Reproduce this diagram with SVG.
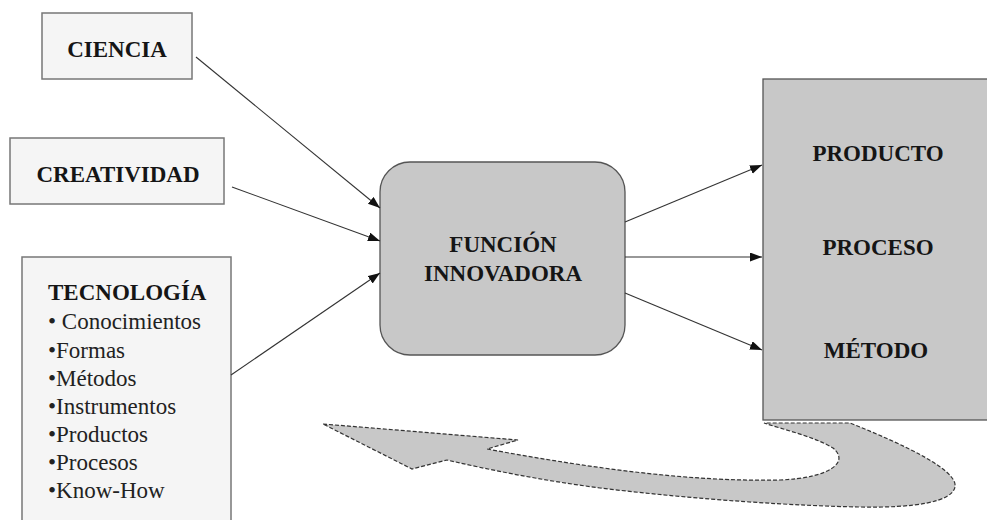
<svg xmlns="http://www.w3.org/2000/svg" width="987" height="520" viewBox="0 0 987 520">
<defs>
<marker id="ah" markerUnits="userSpaceOnUse" markerWidth="13" markerHeight="10" refX="12" refY="4.5" orient="auto">
<path d="M0,0 L12,4.5 L0,9 Z" fill="#111"/>
</marker>
<style>
.lbox{fill:#f5f5f5;stroke:#777;stroke-width:1.5}
.gbox{fill:#c8c8c8;stroke:#555;stroke-width:1.3}
text{font-family:'Liberation Serif',Tinos,'DejaVu Serif',serif}
.b{font-weight:bold;font-size:23px;fill:#151515}
.r{font-size:23px;fill:#222}
.c{text-anchor:middle}
.conn{stroke:#333;stroke-width:1.1;fill:none;marker-end:url(#ah)}
</style>
</defs>
<rect width="987" height="520" fill="#fff"/>
<g id="ciencia">
<rect class="lbox" x="42" y="13" width="150" height="66"/>
<text class="b c" x="117" y="57" font-family="Liberation Serif, serif">CIENCIA</text>
</g>
<g id="creatividad">
<rect class="lbox" x="10" y="138" width="214" height="66"/>
<text class="b c" x="118" y="182" font-family="Liberation Serif, serif">CREATIVIDAD</text>
</g>
<g id="tecnologia" font-family="Liberation Serif, serif">
<rect class="lbox" x="22" y="257" width="209" height="280"/>
<text class="b" x="48" y="300">TECNOLOGÍA</text>
<text class="r" x="48" y="329">• Conocimientos</text>
<text class="r" x="48" y="358">•Formas</text>
<text class="r" x="48" y="386">•Métodos</text>
<text class="r" x="48" y="414">•Instrumentos</text>
<text class="r" x="48" y="442">•Productos</text>
<text class="r" x="48" y="470">•Procesos</text>
<text class="r" x="48" y="498">•Know-How</text>
</g>
<g id="funcion">
<rect class="gbox" x="380" y="162" width="245" height="193" rx="30"/>
<text class="b c" x="503" y="252">FUNCIÓN</text>
<text class="b c" x="503" y="281">INNOVADORA</text>
</g>
<g id="resultados">
<rect class="gbox" x="763" y="79" width="230" height="341"/>
<text class="b c" x="878" y="161">PRODUCTO</text>
<text class="b c" x="878" y="255">PROCESO</text>
<text class="b c" x="876" y="358">MÉTODO</text>
</g>
<g id="retro">
<path d="M323,424 L518,440 L487,449 C590,468 690,482 780,480 C830,478 850,462 833,448 C815,437 785,430 764,423 L850,423 C905,445 958,470 955,487 C952,502 915,508 860,507 C800,506 700,500 600,488 C540,480 490,470 447,460 L412,469 Z" fill="#c8c8c8" stroke="#333" stroke-width="1.2" stroke-dasharray="4 2"/>
</g>
<g id="connectors">
<line class="conn" x1="196" y1="57" x2="380" y2="208"/>
<line class="conn" x1="232" y1="187" x2="380" y2="241"/>
<line class="conn" x1="231" y1="375" x2="380" y2="273"/>
<line class="conn" x1="625" y1="222" x2="762" y2="165"/>
<line class="conn" x1="625" y1="257" x2="762" y2="257"/>
<line class="conn" x1="625" y1="293" x2="762" y2="350"/>
</g>
</svg>
